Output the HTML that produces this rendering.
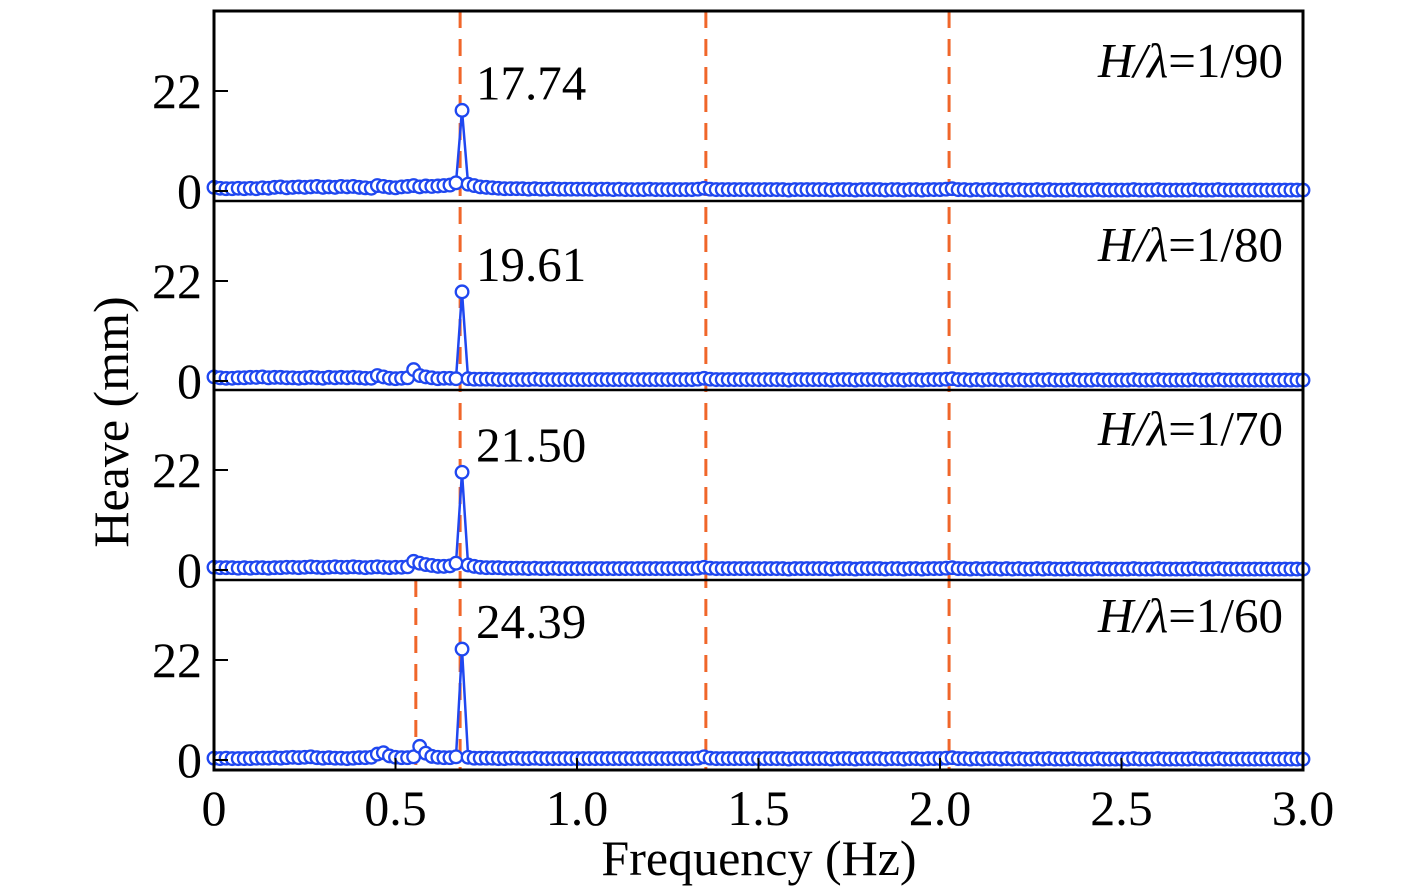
<!DOCTYPE html>
<html><head><meta charset="utf-8"><style>
body{margin:0;background:#fff}
svg{display:block;font-family:"Liberation Serif",serif}
</style></head><body>
<svg id="chart" width="1419" height="896" viewBox="0 0 1419 896" xmlns="http://www.w3.org/2000/svg">
<g id="grid"></g><g id="series"></g><g id="frame"></g><g id="labels"></g>
</svg>
<script>
const panelLabels = ["1/90","1/80","1/70","1/60"];
const peakLabels = ["17.74","19.61","21.50","24.39"];
const peakIndex = [41,41,41,41];
const xTicks = [0,0.5,1.0,1.5,2.0,2.5,3.0];
const xTickLabels = ["0","0.5","1.0","1.5","2.0","2.5","3.0"];
const yTicks = [0,22];
const dashFreqs = [0.678,1.355,2.025];
const dashFreqsBottom = [0.556];
const freqStep = 3/180;
const heave1 = [0.8,0.6,0.5,0.5,0.6,0.5,0.6,0.5,0.7,0.6,0.8,0.9,0.7,0.8,0.9,0.8,0.9,1.0,0.8,0.9,0.8,1.0,0.9,1.0,0.8,0.7,0.6,1.2,1.0,0.8,0.7,0.9,1.0,1.2,0.9,1.1,1.0,1.1,1.2,1.3,1.8,17.74,1.5,1.2,0.9,0.8,0.7,0.6,0.5,0.5,
0.5,0.5,0.4,0.5,0.4,0.4,0.5,0.4,0.4,0.4,0.4,0.4,0.4,0.3,0.4,0.4,0.3,0.4,0.3,0.3,0.3,0.3,0.4,0.3,0.3,0.3,0.3,0.3,0.3,0.3,0.4,0.6,0.4,0.3,0.3,0.3,0.3,0.3,0.3,0.3,0.3,0.3,0.3,0.3,0.3,0.2,0.3,0.3,0.3,0.3,0.3,0.3,0.2,0.3,0.3,0.3,0.2,0.3,0.3,0.3,0.3,0.2,0.3,0.3,0.2,0.3,0.3,0.2,0.3,0.3,0.3,0.4,0.5,0.3,0.3,0.2,0.3,0.2,0.3,0.3,0.2,0.3,0.2,0.3,0.2,0.2,0.3,0.2,0.3,0.2,0.2,0.2,0.3,0.2,0.2,0.2,0.3,0.2,0.2,0.2,0.2,0.2,0.3,0.2,0.2,0.2,0.3,0.2,0.2,0.2,0.2,0.2,0.3,0.2,0.2,0.2,0.3,0.2,0.2,0.2,0.2,0.2,0.2,0.2,0.2,0.2,0.2,0.2,0.2,0.2,0.2];
const heave2 = [0.9,0.7,0.6,0.6,0.7,0.7,0.8,0.8,0.9,0.7,0.8,0.8,0.7,0.7,0.6,0.7,0.8,0.7,0.6,0.8,0.7,0.8,0.7,0.8,0.7,0.6,0.6,1.2,0.9,0.6,0.5,0.6,0.7,2.5,1.2,0.9,0.7,0.5,0.6,0.6,0.5,19.61,0.5,0.4,0.4,0.4,0.4,0.3,0.3,0.3,
0.3,0.3,0.3,0.4,0.3,0.3,0.3,0.3,0.3,0.3,0.3,0.3,0.3,0.3,0.3,0.3,0.3,0.3,0.3,0.3,0.3,0.3,0.3,0.3,0.3,0.3,0.3,0.3,0.3,0.3,0.4,0.6,0.4,0.3,0.3,0.3,0.3,0.3,0.3,0.3,0.3,0.3,0.3,0.3,0.3,0.2,0.3,0.3,0.3,0.3,0.3,0.3,0.2,0.3,0.3,0.3,0.2,0.3,0.3,0.3,0.3,0.2,0.3,0.3,0.2,0.3,0.3,0.2,0.3,0.3,0.3,0.4,0.5,0.3,0.3,0.2,0.3,0.2,0.3,0.3,0.2,0.3,0.2,0.3,0.2,0.2,0.3,0.2,0.3,0.2,0.2,0.2,0.3,0.2,0.2,0.2,0.3,0.2,0.2,0.2,0.2,0.2,0.3,0.2,0.2,0.2,0.3,0.2,0.2,0.2,0.2,0.2,0.3,0.2,0.2,0.2,0.3,0.2,0.2,0.2,0.2,0.2,0.2,0.2,0.2,0.2,0.2,0.2,0.2,0.2,0.2];
const heave3 = [0.6,0.5,0.5,0.5,0.4,0.5,0.4,0.5,0.5,0.4,0.5,0.5,0.6,0.6,0.5,0.6,0.7,0.6,0.5,0.6,0.7,0.6,0.6,0.7,0.6,0.5,0.6,0.7,0.6,0.5,0.6,0.6,0.7,1.9,1.5,1.2,1.0,0.8,0.8,0.9,1.5,21.50,1.1,0.8,0.6,0.5,0.5,0.5,0.4,0.4,
0.4,0.4,0.3,0.4,0.3,0.3,0.4,0.3,0.3,0.3,0.3,0.3,0.3,0.3,0.3,0.3,0.3,0.3,0.3,0.3,0.3,0.3,0.3,0.3,0.3,0.3,0.3,0.3,0.3,0.3,0.4,0.6,0.4,0.3,0.3,0.3,0.3,0.3,0.3,0.3,0.3,0.3,0.3,0.3,0.3,0.2,0.3,0.3,0.3,0.3,0.3,0.3,0.2,0.3,0.3,0.3,0.2,0.3,0.3,0.3,0.3,0.2,0.3,0.3,0.2,0.3,0.3,0.2,0.3,0.3,0.3,0.4,0.5,0.3,0.3,0.2,0.3,0.2,0.3,0.3,0.2,0.3,0.2,0.3,0.2,0.2,0.3,0.2,0.3,0.2,0.2,0.2,0.3,0.2,0.2,0.2,0.3,0.2,0.2,0.2,0.2,0.2,0.3,0.2,0.2,0.2,0.3,0.2,0.2,0.2,0.2,0.2,0.3,0.2,0.2,0.2,0.3,0.2,0.2,0.2,0.2,0.2,0.2,0.2,0.2,0.2,0.2,0.2,0.2,0.2,0.2];
const heave4 = [0.4,0.3,0.4,0.3,0.3,0.3,0.3,0.4,0.4,0.4,0.5,0.4,0.5,0.6,0.5,0.6,0.7,0.5,0.4,0.5,0.4,0.4,0.3,0.4,0.5,0.5,0.6,1.3,1.6,0.9,0.6,0.5,0.5,0.7,3.0,1.5,0.8,0.6,0.5,0.5,0.7,24.39,0.6,0.4,0.4,0.4,0.4,0.3,0.3,0.4,
0.4,0.3,0.3,0.4,0.3,0.3,0.3,0.3,0.3,0.3,0.3,0.3,0.3,0.3,0.3,0.3,0.3,0.3,0.3,0.3,0.3,0.3,0.3,0.3,0.3,0.3,0.3,0.3,0.3,0.3,0.4,0.7,0.4,0.3,0.3,0.3,0.3,0.3,0.3,0.3,0.3,0.3,0.3,0.3,0.3,0.2,0.3,0.3,0.3,0.3,0.3,0.3,0.2,0.3,0.3,0.3,0.2,0.3,0.3,0.3,0.3,0.2,0.3,0.3,0.2,0.3,0.3,0.2,0.3,0.3,0.3,0.4,0.5,0.3,0.3,0.2,0.3,0.2,0.3,0.3,0.2,0.3,0.2,0.3,0.2,0.2,0.3,0.2,0.3,0.2,0.2,0.2,0.3,0.2,0.2,0.2,0.3,0.2,0.2,0.2,0.2,0.2,0.3,0.2,0.2,0.2,0.3,0.2,0.2,0.2,0.2,0.2,0.3,0.2,0.2,0.2,0.3,0.2,0.2,0.2,0.2,0.2,0.2,0.2,0.2,0.2,0.2,0.2,0.2,0.2,0.2];
const series = [heave1,heave2,heave3,heave4];

const NS="http://www.w3.org/2000/svg";
const X0=214,X1=1303,panelTop=[11,201,390,580],panelH=190,zeroOff=180;
function xScale(f){return X0+(f/3)*(X1-X0);}
function yScale(v,p){return panelTop[p]+zeroOff-v*100/22;}
function mk(tag,attrs,parent,text){const e=document.createElementNS(NS,tag);for(const k in attrs)e.setAttribute(k,attrs[k]);if(text!==undefined)e.textContent=text;parent.appendChild(e);return e;}
const grid=document.getElementById('grid'),ser=document.getElementById('series'),frame=document.getElementById('frame'),lab=document.getElementById('labels');
const BLUE="#1f47f0",ORANGE="#f0662a";
const labelOff=[66,60,55,52];

dashFreqs.forEach(f=>{const l=mk('line',{x1:xScale(f),x2:xScale(f),y1:11,y2:770,stroke:ORANGE,'stroke-width':3,'stroke-dasharray':'17 11'},grid);

});
dashFreqsBottom.forEach(f=>{const l=mk('line',{x1:xScale(f),x2:xScale(f),y1:580,y2:770,stroke:ORANGE,'stroke-width':3,'stroke-dasharray':'17 11'},grid);

});

series.forEach((arr,p)=>{
  const pts=arr.map((v,i)=>xScale(i*freqStep).toFixed(1)+','+yScale(v,p).toFixed(1)).join(' ');
  const pl=mk('polyline',{points:pts,fill:'none',stroke:BLUE,'stroke-width':2.5},ser);
  
  
  arr.forEach((v,i)=>{const c=mk('circle',{cx:xScale(i*freqStep),cy:yScale(v,p),r:6.3,fill:'#fff',stroke:BLUE,'stroke-width':2.3},ser);
  
  });
  const pk=peakIndex[p];
  const t=mk('text',{x:xScale(pk*freqStep)+14,y:yScale(arr[pk],p)-11,'font-size':49},lab,peakLabels[p]);
  
  
  const hl=mk('text',{x:1283,y:panelTop[p]+labelOff[p],'font-size':49,'text-anchor':'end'},lab);
  
  
  mk('tspan',{'font-style':'italic'},hl,'H/λ');mk('tspan',{},hl,'='+panelLabels[p]);
  yTicks.forEach(v=>{const y=yScale(v,p);
    mk('line',{x1:X0,x2:X0+14,y1:y,y2:y,stroke:'#000','stroke-width':2},frame);
    const tl=mk('text',{x:X0-12,y:y+17,'font-size':50,'text-anchor':'end'},lab,String(v));
    
    });
  if(p>0){mk('line',{x1:X0,x2:X1,y1:panelTop[p],y2:panelTop[p],stroke:'#000','stroke-width':2.5},frame);}
});
mk('rect',{x:X0,y:11,width:X1-X0,height:759,fill:'none',stroke:'#000','stroke-width':3},frame);
xTicks.forEach((f,i)=>{const x=xScale(f);
  mk('line',{x1:x,x2:x,y1:770,y2:758,stroke:'#000','stroke-width':2},frame);
  const t=mk('text',{x:x,y:825,'font-size':50,'text-anchor':'middle'},lab,xTickLabels[i]);
  
  });
const xt=mk('text',{x:759,y:875,'font-size':50,'text-anchor':'middle'},lab,'Frequency (Hz)');


const yt=mk('text',{x:0,y:0,'font-size':50,'text-anchor':'middle',transform:'translate(128,422) rotate(-90)'},lab,'Heave (mm)');


</script>
</body></html>
